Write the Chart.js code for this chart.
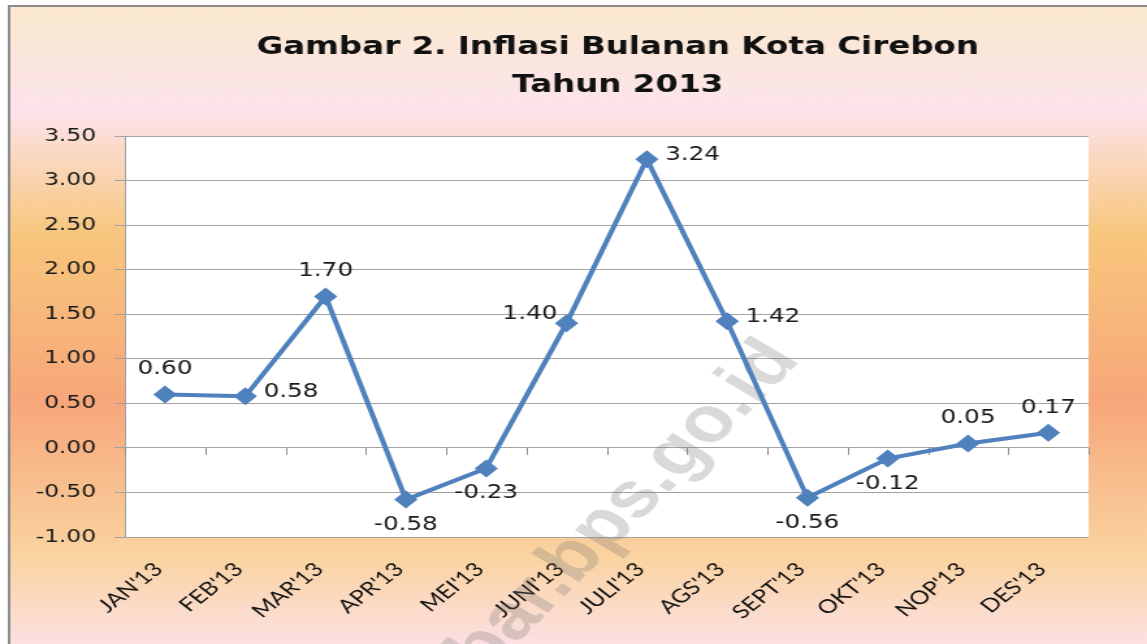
<!DOCTYPE html>
<html>
<head>
<meta charset="utf-8">
<title>Inflasi Bulanan Kota Cirebon 2013</title>
<script src="https://cdn.jsdelivr.net/npm/chart.js@4/dist/chart.umd.min.js"></script>
<style>
    html, body { margin: 0; padding: 0; background: #fff; overflow: hidden; }
    #wrap { width: 882px; height: 644px; transform: scaleX(1.3005); transform-origin: 0 0; }
    canvas { display: block; }
</style>
</head>
<body>
<div id="wrap"><canvas id="chart" width="882" height="644"></canvas></div>
<script>
// Data
const months = ["JAN'13", "FEB'13", "MAR'13", "APR'13", "MEI'13", "JUNI'13", "JULI'13", "AGS'13", "SEPT'13", "OKT'13", "NOP'13", "DES'13"];
const inflation = [0.60, 0.58, 1.70, -0.58, -0.23, 1.40, 3.24, 1.42, -0.56, -0.12, 0.05, 0.17];
const titleLines = ['Gambar 2. Inflasi Bulanan Kota Cirebon', 'Tahun 2013'];
const yMin = -1, yMax = 3.5, yStep = 0.5;

// where each value label sits relative to its marker
const labelSide = ['top', 'right', 'top', 'bottom', 'bottom', 'left', 'right', 'right', 'bottom', 'bottom', 'top', 'top'];

const lineColor = '#4F81BD';
const gridColor = '#A3A3A3';

// background gradient, frame, white plot area
const backgroundPlugin = {
    id: 'background',
    beforeDraw(chart) {
        const { ctx, chartArea: a, width, height } = chart;
        ctx.save();
        ctx.fillStyle = '#fff';
        ctx.fillRect(0, 0, width, height);
        const g = ctx.createLinearGradient(0, 6, 0, height);
        g.addColorStop(0, '#FBE9CE');
        g.addColorStop(0.16, '#FCE4EC');
        g.addColorStop(0.36, '#F8C67C');
        g.addColorStop(0.62, '#F7A77A');
        g.addColorStop(0.86, '#FAD3A0');
        g.addColorStop(1, '#FCE0E2');
        ctx.fillStyle = g;
        ctx.fillRect(7, 6, width - 7, height - 6);
        ctx.strokeStyle = '#8C8C8C';
        ctx.lineWidth = 2;
        ctx.beginPath();
        ctx.moveTo(7, height);
        ctx.lineTo(7, 6);
        ctx.lineTo(width, 6);
        ctx.stroke();
        ctx.fillStyle = '#fff';
        ctx.fillRect(a.left, a.top, a.right - a.left, a.bottom - a.top);
        ctx.restore();
    }
};

// title, zero-line tick marks and watermark
const decorPlugin = {
    id: 'decor',
    beforeDatasetsDraw(chart) {
        const { ctx, scales: { x, y } } = chart;
        ctx.save();
        // small tick marks under the zero line, at category boundaries
        const y0 = y.getPixelForValue(0);
        ctx.strokeStyle = '#8C8C8C';
        ctx.lineWidth = 1;
        ctx.beginPath();
        for (let i = 0; i <= months.length; i++) {
            const px = Math.round(x.getPixelForValue(i - 0.5)) + 0.5;
            ctx.moveTo(px, y0);
            ctx.lineTo(px, y0 + 7);
        }
        ctx.stroke();

        // watermark
        ctx.translate(616, 360);
        ctx.rotate(-52.4 * Math.PI / 180);
        ctx.font = 'bold 64px "Liberation Sans", Arial, sans-serif';
        ctx.fillStyle = 'rgba(120, 120, 120, 0.28)';
        ctx.textAlign = 'right';
        ctx.textBaseline = 'alphabetic';
        ctx.fillText('jabar.bps.go.id', 0, 0);
        ctx.restore();
    },
    afterDraw(chart) {
        const { ctx } = chart;
        ctx.save();
        ctx.font = 'bold 25px "DejaVu Sans", Verdana, sans-serif';
        ctx.fillStyle = '#111';
        ctx.textAlign = 'center';
        ctx.textBaseline = 'middle';
        ctx.fillText(titleLines[0], 475, 47);
        ctx.fillText(titleLines[1], 475, 85);
        ctx.restore();
    }
};

// value labels next to each marker
const valueLabelPlugin = {
    id: 'valueLabels',
    afterDatasetsDraw(chart) {
        const { ctx } = chart;
        const meta = chart.getDatasetMeta(0);
        ctx.save();
        ctx.font = '19px "DejaVu Sans", Verdana, sans-serif';
        ctx.fillStyle = '#1a1a1a';
        ctx.textBaseline = 'middle';
        meta.data.forEach((pt, i) => {
            const text = inflation[i].toFixed(2);
            const side = labelSide[i];
            let tx = pt.x, ty = pt.y;
            if (side === 'top') { ctx.textAlign = 'center'; ty -= 25; }
            else if (side === 'bottom') { ctx.textAlign = 'center'; ty += 25; }
            else if (side === 'right') { ctx.textAlign = 'left'; tx += 14; ty -= 4; }
            else { ctx.textAlign = 'right'; tx -= 7; ty -= 9; }
            ctx.fillText(text, tx, ty);
        });
        ctx.restore();
    }
};

const chart = new Chart(document.getElementById('chart'), {
    type: 'line',
    data: {
        labels: months,
        datasets: [{
            label: 'Inflasi',
            data: inflation,
            borderColor: lineColor,
            backgroundColor: lineColor,
            borderWidth: 4,
            tension: 0,
            pointStyle: 'rectRot',
            pointRadius: 9,
            pointBorderWidth: 0,
            fill: false
        }]
    },
    options: {
        responsive: false,
        animation: false,
        devicePixelRatio: 1,
        layout: { padding: { top: 136, right: 45, bottom: 0, left: 0 } },
        plugins: {
            legend: { display: false },
            title: { display: false },
            tooltip: { enabled: false }
        },
        scales: {
            x: {
                offset: true,
                grid: { display: false, drawTicks: false },
                border: { display: false },
                ticks: {
                    color: '#111',
                    font: { family: 'Lato, "Open Sans", sans-serif', size: 19 },
                    maxRotation: 45,
                    minRotation: 45,
                    padding: 21,
                    labelOffset: -5,
                    autoSkip: false
                },
                afterFit(scale) { scale.height = 107; }
            },
            y: {
                min: yMin,
                max: yMax,
                grid: { color: gridColor, lineWidth: 1, tickLength: 8, drawTicks: true },
                border: { color: gridColor, width: 1 },
                ticks: {
                    stepSize: yStep,
                    color: '#1a1a1a',
                    font: { family: '"DejaVu Sans", Verdana, sans-serif', size: 18 },
                    padding: 14,
                    callback: v => Number(v).toFixed(2)
                },
                afterFit(scale) { scale.width = 96; }
            }
        }
    },
    plugins: [backgroundPlugin, decorPlugin, valueLabelPlugin]
});
</script>
</body>
</html>
